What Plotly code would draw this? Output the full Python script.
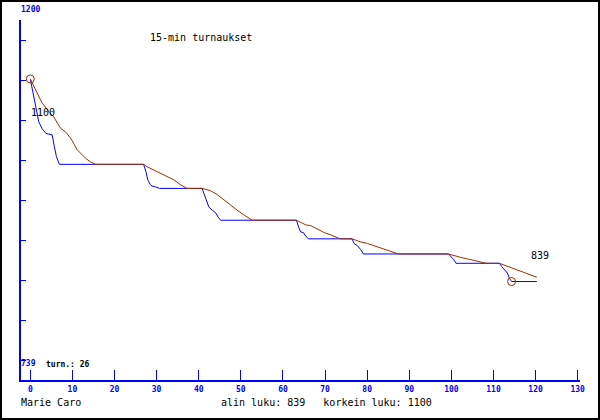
import plotly.graph_objects as go

# ---- data (minutes vs rating) ----
blue_x = [0, 1.2, 2.0, 2.8, 3.7, 4.4, 5.2, 5.7, 6.2, 6.9, 26.9, 27.5, 27.9, 28.5, 28.9, 29.7, 30.7,
          40.8, 41.4, 41.8, 42.4, 43.2, 44.1, 44.6, 45.2, 63.2, 63.4, 63.8, 64.2, 64.9, 65.2, 66.0,
          76.4, 76.9, 77.7, 78.5, 79.1, 99.3, 99.9, 100.6, 101.1, 111.4, 112.0, 112.6, 113.3,
          113.8, 114.3, 120.3]
blue_y = [1100, 1069, 1045, 1036, 1030, 1029, 1028, 1013, 1000, 990, 990, 980, 970, 964, 962, 961, 959,
          959, 950, 942, 935, 931, 927, 922, 918, 918, 914, 908, 903, 902, 899, 894,
          894, 888, 885, 880, 874.5, 874.5, 871, 867, 862.5, 862.5, 858, 854, 850,
          843, 839, 839]

brown_x = [0, 1.6, 2.8, 4.4, 5.6, 7.1, 8.7, 9.9, 11.1, 13.1, 14.3, 15.5, 26.9, 27.7, 29.3, 30.9, 32.5,
           34.1, 35.6, 36.8, 37.2, 40.8, 42.8, 44.4, 46.0, 47.5, 49.1, 50.7, 51.9, 52.7, 63.2, 64.2,
           65.4, 66.6, 68.2, 69.8, 71.4, 73.0, 73.6, 76.4, 78.5, 80.1, 81.7, 83.3, 84.9, 86.4, 87.4,
           99.3, 100.7, 102.3, 103.9, 105.5, 107.1, 108.3, 111.4, 112.6, 114.2, 115.8, 117.4, 119.0, 120.3]
brown_y = [1100, 1082, 1069, 1058, 1051, 1037, 1030, 1021, 1009, 998, 993, 990, 990, 987, 983, 979, 974,
           970, 964, 960, 959, 959, 956, 951, 944, 938, 931, 925, 921, 918, 918, 915,
           912, 911, 906, 902, 899, 895, 894, 894, 890, 888, 885, 882, 879, 876, 874.5,
           874.5, 872, 870, 868, 866, 864, 862.5, 862.5, 860, 857, 853, 850, 847, 844.5]

extreme_x = [0, 114.3]
extreme_y = [1100, 839]

x_ticks = list(range(0, 140, 10))
title_text = "15-min turnaukset"
player = "Marie Caro"
summary = "alin luku: 839\u00a0\u00a0\u00a0korkein luku: 1100"
games_text = "turn.: 26"
ymax_label = "1200"
ymin_label = "739"
max_label = "1100"
min_label = "839"

BLUE = "#0000ff"
BROWN = "#993300"
MONO = "DejaVu Sans Mono"

W, H = 600, 420
ML, MR, MT, MB = 21, 20, 20, 40
PW, PH = W - ML - MR, H - MT - MB

YR = [712.1, 1176.0]
ystep = (YR[1] - YR[0]) / 9
y_tickvals = [YR[1] - ystep / 2 - k * ystep for k in range(9)]


def px(x, y):
    return (x - ML) / PW, 1 - (y - MT) / PH


fig = go.Figure()
fig.add_trace(go.Scatter(x=blue_x, y=blue_y, mode="lines", line=dict(color=BLUE, width=1),
                         hoverinfo="skip", showlegend=False))
fig.add_trace(go.Scatter(x=brown_x, y=brown_y, mode="lines", line=dict(color=BROWN, width=1),
                         hoverinfo="skip", showlegend=False))
fig.add_trace(go.Scatter(x=extreme_x, y=extreme_y, mode="markers",
                         marker=dict(symbol="circle-open", size=8, color=BROWN, line=dict(width=1)),
                         hoverinfo="skip", showlegend=False))

annos = []


def add_text(t, x, y, size=10, color="black", bold=False):
    ax, ay = px(x, y)
    annos.append(dict(text=t, x=ax, y=ay, xref="paper", yref="paper", xanchor="left",
                      yanchor="middle", showarrow=False,
                      font=dict(family=MONO, size=size, color=color,
                                weight="bold" if bold else "normal")))


add_text(title_text, 148, 37)
add_text(max_label, 29, 112)
add_text(min_label, 529, 255)
add_text(games_text, 44, 364, size=8, bold=True)
add_text(player, 19, 402)
add_text(summary, 219, 402)
add_text(ymax_label, 19, 9, size=8, color=BLUE, bold=True)
add_text(ymin_label, 19, 363, size=8, color=BLUE, bold=True)

fx0, fy0 = px(1, H - 1)
fx1, fy1 = px(W - 1, 1)

fig.update_layout(
    width=W, height=H,
    margin=dict(l=ML, r=MR, t=MT, b=MB, pad=0),
    paper_bgcolor="white", plot_bgcolor="white",
    annotations=annos,
    shapes=[dict(type="rect", xref="paper", yref="paper", x0=fx0, y0=fy0, x1=fx1, y1=fy1,
                 line=dict(color="black", width=2), layer="above")],
    xaxis=dict(range=[-2.21, 130.55], tickvals=x_ticks, ticktext=[str(v) for v in x_ticks],
               ticks="inside", ticklen=10, tickwidth=1, tickcolor=BLUE,
               showline=True, linecolor=BLUE, linewidth=2, showgrid=False, zeroline=False,
               tickfont=dict(family=MONO, size=8, color=BLUE, weight="bold")),
    yaxis=dict(range=YR, tickvals=y_tickvals, showticklabels=False,
               ticks="inside", ticklen=5, tickwidth=1, tickcolor=BLUE,
               showline=True, linecolor=BLUE, linewidth=2, showgrid=False, zeroline=False),
)

fig.write_html("out.html", config={"displayModeBar": False},
               post_script="document.body.style.margin='0px';document.body.style.padding='0px';"
                           "document.body.style.overflow='hidden';")
